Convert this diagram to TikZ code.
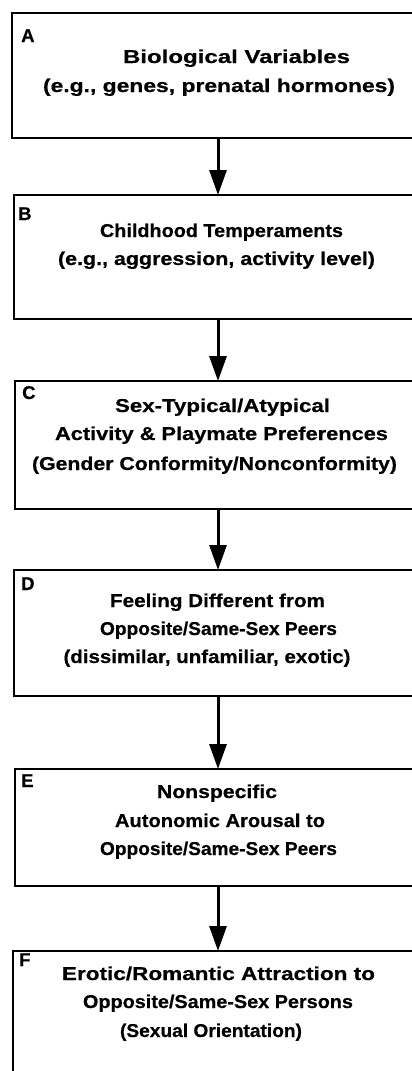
\documentclass[tikz,border=0pt]{standalone}
\usepackage{fontspec}
\usepackage{graphicx}
\newfontfamily\figfont{Liberation Sans Bold}[FakeBold=0.5]
\usetikzlibrary{arrows.meta}
\newcommand\fitline[2]{\resizebox{#1pt}{\height}{#2}}
\begin{document}
\begin{tikzpicture}[x=1pt,y=-1pt,
  box/.style={draw=none, anchor=north west, inner sep=0pt, outer sep=0pt},
  boxline/.style={draw=black, line width=1.8pt, line join=miter},
  txt/.style={anchor=base, inner sep=0pt, font=\figfont\fontsize{18.6}{22}\selectfont},
  tag/.style={anchor=base west, inner sep=0pt, font=\figfont\fontsize{18.5}{22}\selectfont},
  arr/.style={line width=3pt, -{Triangle[length=25pt,width=17pt]}}
]
\fill[white] (0,0) rectangle (412,1071);
\useasboundingbox (0,0) rectangle (412,1071);
\clip (0,0) rectangle (412,1071);
\coordinate (spine) at (218,0);

% boxes (open to the right, cut by the page edge)
\node[box, minimum width=500pt, minimum height=125pt] (A) at (12,13) {};
\node[box, minimum width=500pt, minimum height=124pt] (B) at (14,195) {};
\node[box, minimum width=500pt, minimum height=128pt] (C) at (15,381) {};
\node[box, minimum width=500pt, minimum height=126pt] (D) at (14,570) {};
\node[box, minimum width=500pt, minimum height=117pt] (E) at (15,769) {};
\node[box, minimum width=500pt, minimum height=150pt] (F) at (13,951) {};
\foreach \b in {A,B,C,D,E,F}
  \draw[boxline] (\b.north east) -- (\b.north west) -- (\b.south west) -- (\b.south east);

% tags
\node[tag] (tA) at (21,42) {A};
\node[tag] (tB) at (18,220) {B};
\node[tag] (tC) at (22,399) {C};
\node[tag] (tD) at (21,590) {D};
\node[tag] (tE) at (21,787) {E};
\node[tag] (tF) at (19,966) {F};

% texts
\node[txt] (a1) at (236.5,63) {\fitline{227}{Biological Variables}};
\node[txt] (a2) at (219,92) {\fitline{352}{(e.g., genes, prenatal hormones)}};
\node[txt] (b1) at (221.5,237) {\fitline{243}{Childhood Temperaments}};
\node[txt] (b2) at (216.5,265) {\fitline{317}{(e.g., aggression, activity level)}};
\node[txt] (c1) at (222.5,412) {\fitline{215}{Sex-Typical/Atypical}};
\node[txt] (c2) at (221.5,440) {\fitline{333}{Activity \& Playmate Preferences}};
\node[txt] (c3) at (214.5,470) {\fitline{365}{(Gender Conformity/Nonconformity)}};
\node[txt] (d1) at (217.5,607) {\fitline{215}{Feeling Different from}};
\node[txt] (d2) at (218.5,635) {\fitline{237}{Opposite/Same-Sex Peers}};
\node[txt] (d3) at (207,663) {\fitline{287}{(dissimilar, unfamiliar, exotic)}};
\node[txt] (e1) at (217,798) {\fitline{120}{Nonspecific}};
\node[txt] (e2) at (220,827) {\fitline{210}{Autonomic Arousal to}};
\node[txt] (e3) at (218.5,855) {\fitline{237}{Opposite/Same-Sex Peers}};
\node[txt] (f1) at (218.5,980) {\fitline{313}{Erotic/Romantic Attraction to}};
\node[txt] (f2) at (218,1008) {\fitline{270}{Opposite/Same-Sex Persons}};
\node[txt] (f3) at (211,1037) {\fitline{182}{(Sexual Orientation)}};

% arrows
\draw[arr] (A.south -| spine) -- (B.north -| spine);
\draw[arr] (B.south -| spine) -- (C.north -| spine);
\draw[arr] (C.south -| spine) -- (D.north -| spine);
\draw[arr] (D.south -| spine) -- (E.north -| spine);
\draw[arr] (E.south -| spine) -- (F.north -| spine);
\end{tikzpicture}
\end{document}
